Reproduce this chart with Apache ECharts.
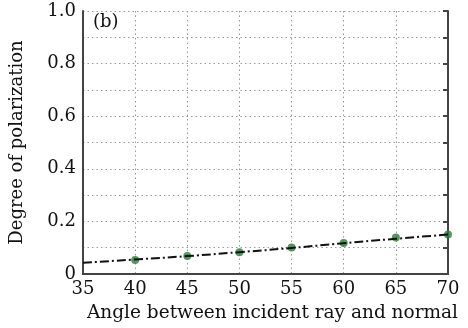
<!DOCTYPE html>
<html><head><meta charset="utf-8">
<script src="https://cdn.jsdelivr.net/npm/echarts@6/dist/echarts.min.js"></script>
<style>html,body{margin:0;padding:0;background:#fff}#c{width:468px;height:328px}</style>
</head><body><div id="c"></div>
<script>
const angles = [40, 45, 50, 55, 60, 65, 70];
const measured = [0.053, 0.068, 0.083, 0.101, 0.118, 0.139, 0.150];
const fitAngles = [35, 40, 45, 50, 55, 60, 65, 70];
const fitValues = [0.043, 0.055, 0.068, 0.083, 0.099, 0.117, 0.134, 0.150];
const xTicks = [35, 40, 45, 50, 55, 60, 65, 70];
const yTicks = [0, 0.2, 0.4, 0.6, 0.8, 1.0];
const xTitle = 'Angle between incident ray and normal';
const yTitle = 'Degree of polarization';
const panelLabel = '(b)';

const font = 'DejaVu Serif';
const chart = echarts.init(document.getElementById('c'));
const gridLine = {show: true, lineStyle: {color: '#999', type: [1.5, 3], width: 1}};
chart.setOption({
  animation: false,
  grid: {left: 82, right: 20, top: 11, bottom: 48},
  xAxis: [{
    type: 'value', min: 35, max: 70, interval: 5,
    axisLine: {lineStyle: {color: '#444', width: 2}},
    axisTick: {show: false},
    splitLine: gridLine,
    axisLabel: {color: '#111', fontFamily: font, fontSize: 18, margin: 6,
      formatter: v => xTicks.includes(v) ? String(v) : ''},
    name: xTitle, nameLocation: 'middle', nameGap: 30,
    nameTextStyle: {color: '#111', fontFamily: font, fontSize: 18.5, padding: [0, 0, 0, 14]}
  }, {
    type: 'value', position: 'top', min: 35, max: 70, interval: 5,
    axisLine: {show: true, lineStyle: {color: '#444', width: 2}},
    axisTick: {show: false},
    axisLabel: {show: false}, splitLine: {show: false}
  }],
  yAxis: [{
    type: 'value', min: 0, max: 1, interval: 0.1,
    axisLine: {show: true, lineStyle: {color: '#444', width: 2}},
    axisTick: {show: false},
    splitLine: gridLine,
    axisLabel: {color: '#111', fontFamily: font, fontSize: 18, margin: 7,
      formatter: v => {
        const r = Math.round(v * 10) / 10;
        const t = yTicks.find(y => Math.abs(y - r) < 1e-6);
        if (t === undefined) return '';
        return t === 0 ? '0' : t.toFixed(1);
      }},
    name: yTitle, nameLocation: 'middle', nameGap: 57,
    nameTextStyle: {color: '#111', fontFamily: font, fontSize: 18}
  }, {
    type: 'value', position: 'right', min: 0, max: 1, interval: 0.1,
    axisLine: {show: true, lineStyle: {color: '#444', width: 2}},
    axisTick: {show: true, inside: true, length: 5, lineStyle: {color: '#444', width: 2}},
    axisLabel: {show: false}, splitLine: {show: false}
  }],
  graphic: [{type: 'text', left: 93, top: 13,
    style: {text: panelLabel, font: '18px "DejaVu Serif"', fill: '#111'}}],
  series: [{
    type: 'line', xAxisIndex: 0, yAxisIndex: 0,
    data: fitAngles.map((a, i) => [a, fitValues[i]]),
    smooth: true, symbol: 'none',
    lineStyle: {color: '#111', width: 2, type: [9, 3, 2, 3]}
  }, {
    type: 'scatter', xAxisIndex: 0, yAxisIndex: 0,
    data: angles.map((a, i) => [a, measured[i]]),
    symbolSize: 8, itemStyle: {color: '#2f7a3c'}
  }]
});
</script></body></html>
